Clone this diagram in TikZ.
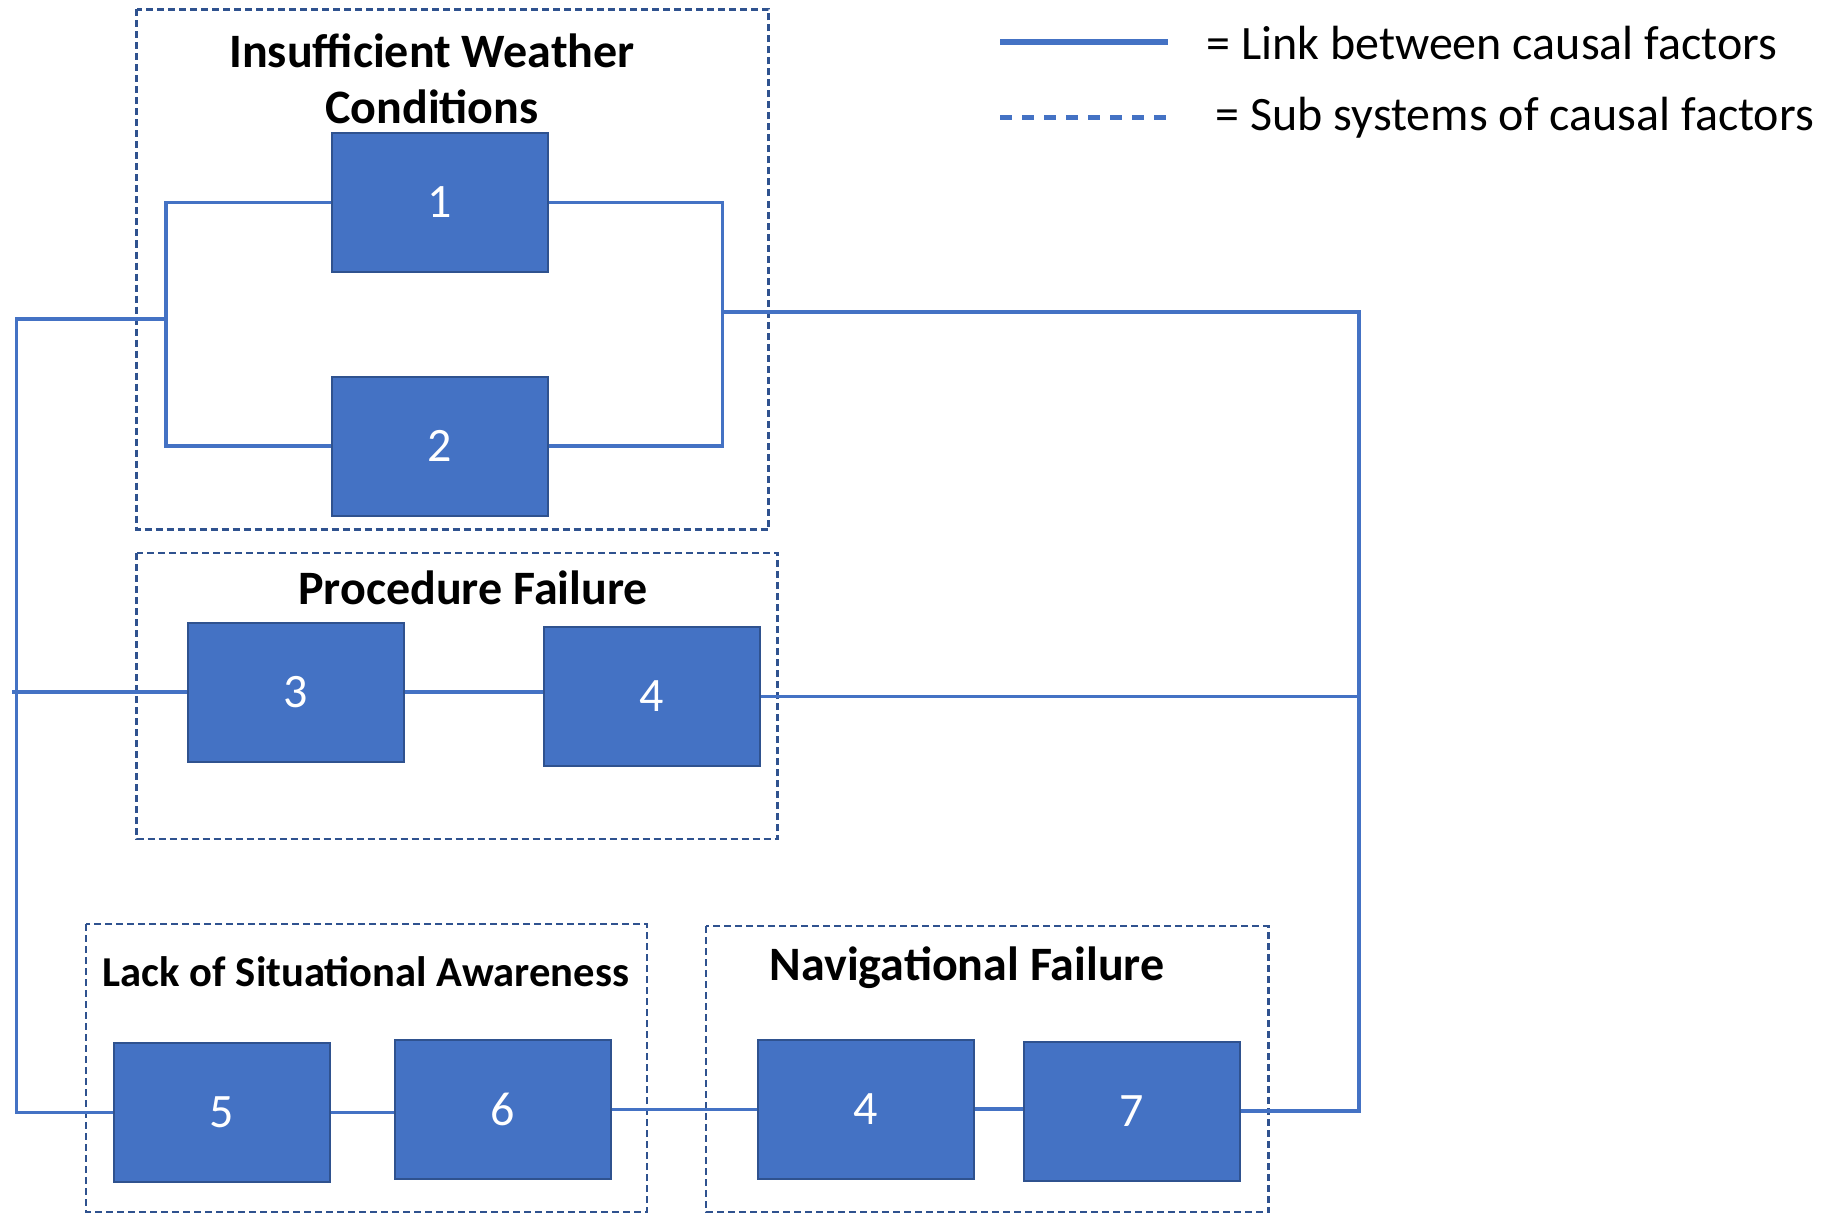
\documentclass[tikz,border=0pt]{standalone}
\usepackage{fontspec}
\setmainfont{Carlito}
\definecolor{boxblue}{HTML}{4472C4}
\definecolor{edgeblue}{HTML}{2F528F}
\begin{document}
\begin{tikzpicture}[x=0.5pt,y=-0.5pt,
  cf/.style={draw=edgeblue,line width=1pt,fill=boxblue,text=white,minimum width=108pt,minimum height=69.5pt,inner sep=0pt,font=\fontsize{24}{28}\selectfont},
  sub/.style={draw=edgeblue,line width=1.2pt,dash pattern=on 3.5pt off 2pt},
  link/.style={draw=boxblue,line width=1.7pt},
  ttl/.style={font=\fontsize{24}{28.25}\selectfont\bfseries,align=center,inner sep=0pt},
  keytxt/.style={anchor=west,inner sep=0pt,font=\fontsize{24}{28}\selectfont}]
\useasboundingbox (0,0) rectangle (1845,1214);
% sub systems
\draw[sub] (136.5,9.5) rectangle (768.5,529.5);
\draw[sub] (136.5,553) rectangle (777.5,839);
\draw[sub] (86,924) rectangle (647,1212);
\draw[sub] (706,926) rectangle (1268.5,1212);
\node[ttl] (tw) at (432,79) {Insufficient Weather\\Conditions};
\node[ttl] (tp) at (473,588) {Procedure Failure};
\node[ttl,font=\fontsize{21.3}{25}\selectfont\bfseries] (tl) at (366,972) {Lack of Situational Awareness};
\node[ttl] (tn) at (967,968) {Navigational Failure};
% causal factors
\node[cf] (c1) at (439.5,202.5) {1};
\node[cf] (c2) at (439.5,446) {2};
\node[cf] (c3) at (296,692) {3};
\node[cf] (c4a) at (651.5,696.5) {4};
\node[cf] (c5) at (221.5,1112.5) {5};
\node[cf] (c6) at (503,1109.5) {6};
\node[cf] (c4b) at (866,1109) {4};
\node[cf] (c7) at (1131.5,1111) {7};
% links
\coordinate (lt) at (166,200);
\coordinate (rt) at (722.5,200);
\coordinate (wm) at (166,319);
\coordinate (lx) at (16.5,319);
\coordinate (wr) at (722.5,312);
\coordinate (rx) at (1359,312);
\coordinate (px) at (12,692);
\draw[link] (c1.west) -- (c1.west -| lt) -- (c2.west -| lt) -- (c2.west);
\draw[link] (c1.east) -- (c1.east -| rt) -- (c2.east -| rt) -- (c2.east);
\draw[link] (wm) -- (lx) -- (lx |- c5.west) -- (c5.west);
\draw[link] (wr) -- (rx) -- (rx |- c7.east) -- (c7.east);
\draw[link] (c3.west) -- (px);
\draw[link] (c3.east) -- (c3.east -| c4a.west);
\draw[link] (c4a.east) -- (c4a.east -| rx);
\draw[link] (c5.east) -- (c5.east -| c6.west);
\draw[link] (c6.east) -- (c6.east -| c4b.west);
\draw[link] (c4b.east) -- (c4b.east -| c7.west);
% legend
\coordinate (ka) at (1000,42);
\coordinate (kb) at (1168,42);
\coordinate (kc) at (1000,117.5);
\coordinate (kd) at (1168,117.5);
\draw[boxblue,line width=2.6pt] (ka) -- (kb);
\draw[boxblue,line width=2.5pt,dash pattern=on 6pt off 5pt] (kc) -- (kd);
\node[keytxt] (k1) at (1206,43) {= Link between causal factors};
\node[keytxt] (k2) at (1215.5,118) {= Sub systems of causal factors};
\end{tikzpicture}
\end{document}
